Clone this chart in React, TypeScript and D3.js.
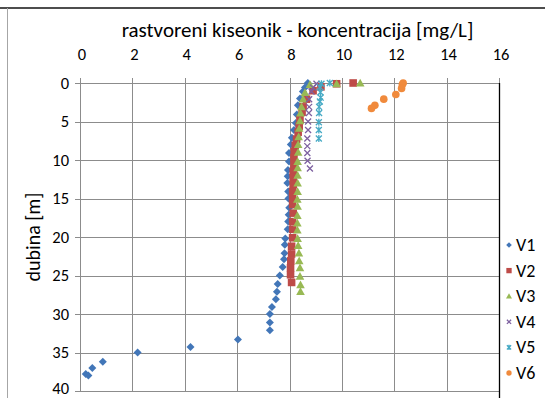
import React from "react";
import * as d3 from "d3";

// Dissolved oxygen profiles: depth [m] and concentration [mg/L] per profile
const V1_DEPTH = [0, 0.6, 1.1, 2, 2.9, 4.1, 5.2, 6.1, 7.1, 8, 9.1, 10.2, 11.3, 12.1, 13, 14.1, 15, 16.2, 17.1, 18, 19, 20.2, 21, 22.1, 22.9, 23.9, 25, 26.1, 27.1, 28.1, 29.1, 30, 31.1, 32.1, 33.3, 34.3, 35, 36.2, 37, 37.8, 38];
const V1_DO = [8.7, 8.59, 8.51, 8.4, 8.32, 8.28, 8.24, 8.17, 8.09, 8.05, 7.98, 7.98, 7.94, 7.93, 7.92, 7.95, 7.96, 7.99, 7.97, 7.95, 7.93, 7.84, 7.82, 7.81, 7.79, 7.74, 7.63, 7.55, 7.52, 7.48, 7.33, 7.25, 7.25, 7.25, 6.03, 4.22, 2.2, 0.87, 0.47, 0.22, 0.32];

const V2_DEPTH = [0, 0.1, 0.5, 1, 2.1, 3.1, 3.8, 4.7, 5.6, 6.4, 7.3, 8.1, 8.9, 9.7, 10.6, 11.5, 12.3, 13.2, 14.1, 14.9, 15.8, 16.9, 18, 19, 20.1, 21.2, 22.2, 23.1, 24, 24.9, 25.9];
const V2_DO = [10.43, 9.8, 9.2, 8.9, 8.65, 8.52, 8.48, 8.4, 8.37, 8.33, 8.27, 8.22, 8.18, 8.17, 8.17, 8.14, 8.14, 8.14, 8.12, 8.12, 8.12, 8.14, 8.12, 8.12, 8.12, 8.08, 8.08, 8.05, 8.04, 8.04, 8.08];

const V3_DEPTH = [0, 0.1, 0.2, 1.25, 2.1, 3.1, 3.9, 4.9, 5.9, 7, 8, 9, 10.2, 11, 12, 13, 14.1, 15.1, 16, 17.2, 18.2, 19.1, 20.2, 21.1, 22.1, 23.1, 24, 25.1, 26.2, 27.1];
const V3_DO = [10.7, 9.8, 8.78, 8.59, 8.52, 8.46, 8.42, 8.4, 8.37, 8.35, 8.33, 8.33, 8.31, 8.31, 8.31, 8.31, 8.31, 8.3, 8.31, 8.3, 8.3, 8.3, 8.31, 8.33, 8.36, 8.37, 8.4, 8.4, 8.42, 8.42];

const V4_DEPTH = [0.1, 0.6, 1.1, 2.1, 3.1, 3.9, 5, 6.1, 7.2, 8.2, 9.1, 10.1, 11.1];
const V4_DO = [9.03, 8.9, 8.84, 8.75, 8.75, 8.74, 8.71, 8.71, 8.68, 8.68, 8.68, 8.69, 8.78];

const V5_DEPTH = [0, 0.1, 0.5, 1.2, 1.9, 2.4, 3.1, 3.9, 5.1, 6.1, 7.2];
const V5_DO = [9.54, 9.22, 9.16, 9.18, 9.19, 9.16, 9.13, 9.13, 9.12, 9.12, 9.12];

const V6_DEPTH = [0, 0.2, 0.7, 1.5, 2.1, 2.9, 3.3];
const V6_DO = [12.34, 12.31, 12.28, 12.06, 11.6, 11.26, 11.13];

const SERIES_NAMES = ["V1", "V2", "V3", "V4", "V5", "V6"];
const X_TICKS = [0, 2, 4, 6, 8, 10, 12, 14, 16];
const Y_TICKS = [0, 5, 10, 15, 20, 25, 30, 35, 40];

const TITLE = "rastvoreni kiseonik - koncentracija [mg/L]";
const Y_TITLE = "dubina [m]";

const W = 545;
const H = 398;
const PLOT = { left: 80, right: 499, top: 83, bottom: 391 };
const FONT = "Carlito, Calibri, Lato, 'Open Sans', sans-serif";

type Shape = "diamond" | "square" | "triangle" | "x" | "star" | "circle";

const STYLES: { color: string; shape: Shape; size: number }[] = [
  { color: "#4276B8", shape: "diamond", size: 4 },
  { color: "#BE4B48", shape: "square", size: 3.8 },
  { color: "#98B954", shape: "triangle", size: 4.3 },
  { color: "#7D60A0", shape: "x", size: 3 },
  { color: "#46AAC5", shape: "star", size: 3 },
  { color: "#F08A3C", shape: "circle", size: 3.8 },
];

const SERIES = [
  { depth: V1_DEPTH, value: V1_DO },
  { depth: V2_DEPTH, value: V2_DO },
  { depth: V3_DEPTH, value: V3_DO },
  { depth: V4_DEPTH, value: V4_DO },
  { depth: V5_DEPTH, value: V5_DO },
  { depth: V6_DEPTH, value: V6_DO },
];

function Marker({ x, y, shape, size, color }: { x: number; y: number; shape: Shape; size: number; color: string }) {
  const r = size;
  switch (shape) {
    case "diamond":
      return <path d={`M${x},${y - r}L${x + r},${y}L${x},${y + r}L${x - r},${y}Z`} fill={color} />;
    case "square":
      return <rect x={x - r} y={y - r} width={2 * r} height={2 * r} fill={color} />;
    case "triangle":
      return <path d={`M${x},${y - r}L${x + r},${y + r * 0.8}L${x - r},${y + r * 0.8}Z`} fill={color} />;
    case "x":
      return (
        <path d={`M${x - r},${y - r}L${x + r},${y + r}M${x - r},${y + r}L${x + r},${y - r}`} stroke={color} strokeWidth={1.3} fill="none" />
      );
    case "star":
      return (
        <path
          d={`M${x - r},${y - r}L${x + r},${y + r}M${x - r},${y + r}L${x + r},${y - r}M${x},${y - r - 0.5}L${x},${y + r + 0.5}`}
          stroke={color}
          strokeWidth={1.3}
          fill="none"
        />
      );
    default:
      return <circle cx={x} cy={y} r={r} fill={color} />;
  }
}

export default function App() {
  const x = d3.scaleLinear().domain([0, 16]).range([PLOT.left, PLOT.right]);
  const y = d3.scaleLinear().domain([0, 40]).range([PLOT.top, PLOT.bottom]);
  const grid = "#8C8C8C";
  const legendY = d3.scalePoint<string>().domain(SERIES_NAMES).range([245, 373]);

  return (
    <svg
      width={W}
      height={H}
      viewBox={`0 0 ${W} ${H}`}
      style={{ position: "absolute", left: 0, top: 0, background: "#fff" }}
      fontFamily={FONT}
    >
      <rect x={0} y={0} width={W} height={H} fill="#fff" />
      {/* outer frame */}
      <line x1={0} x2={W} y1={8} y2={8} stroke="#4D4D4D" strokeWidth={2} />
      <line x1={7.5} x2={7.5} y1={8} y2={H} stroke="#A6A6A6" strokeWidth={1} />

      {/* gridlines */}
      {X_TICKS.map((t) => (
        <line key={`gx${t}`} x1={Math.round(x(t)) + 0.5} x2={Math.round(x(t)) + 0.5} y1={PLOT.top - 5} y2={PLOT.bottom} stroke={grid} strokeWidth={1} />
      ))}
      {Y_TICKS.map((t) => (
        <line key={`gy${t}`} x1={PLOT.left - 5} x2={PLOT.right} y1={Math.round(y(t)) + 0.5} y2={Math.round(y(t)) + 0.5} stroke={grid} strokeWidth={1} />
      ))}
      {/* right edge of plot */}
      <line x1={PLOT.right + 0.5} x2={PLOT.right + 0.5} y1={PLOT.top} y2={H} stroke="#000" strokeWidth={1.3} />

      {/* tick labels */}
      {X_TICKS.map((t) => (
        <text key={`tx${t}`} x={x(t) + 2} y={60} textAnchor="middle" fontSize={16.5} fill="#000">
          {t}
        </text>
      ))}
      {Y_TICKS.map((t) => (
        <text key={`ty${t}`} x={69} y={Math.min(y(t) + 5.5, 394)} textAnchor="end" fontSize={16.5} fill="#000">
          {t}
        </text>
      ))}

      {/* titles */}
      <text x={(PLOT.left + PLOT.right) / 2 + 8} y={37} textAnchor="middle" fontSize={21} fill="#000">
        {TITLE}
      </text>
      <text transform={`translate(40,${(PLOT.top + PLOT.bottom) / 2}) rotate(-90)`} textAnchor="middle" fontSize={20} fill="#000">
        {Y_TITLE}
      </text>

      {/* data */}
      {SERIES.map((s, i) => (
        <g key={SERIES_NAMES[i]}>
          {s.depth.map((d, j) => (
            <Marker key={j} x={x(s.value[j])} y={y(d)} shape={STYLES[i].shape} size={STYLES[i].size} color={STYLES[i].color} />
          ))}
        </g>
      ))}

      {/* legend */}
      {SERIES_NAMES.map((n, i) => {
        const ly = legendY(n) as number;
        return (
          <g key={`lg${n}`}>
            <Marker x={509} y={ly} shape={STYLES[i].shape} size={STYLES[i].size * 0.7} color={STYLES[i].color} />
            <text x={516} y={ly + 6} fontSize={18} fill="#000">
              {n}
            </text>
          </g>
        );
      })}
    </svg>
  );
}
